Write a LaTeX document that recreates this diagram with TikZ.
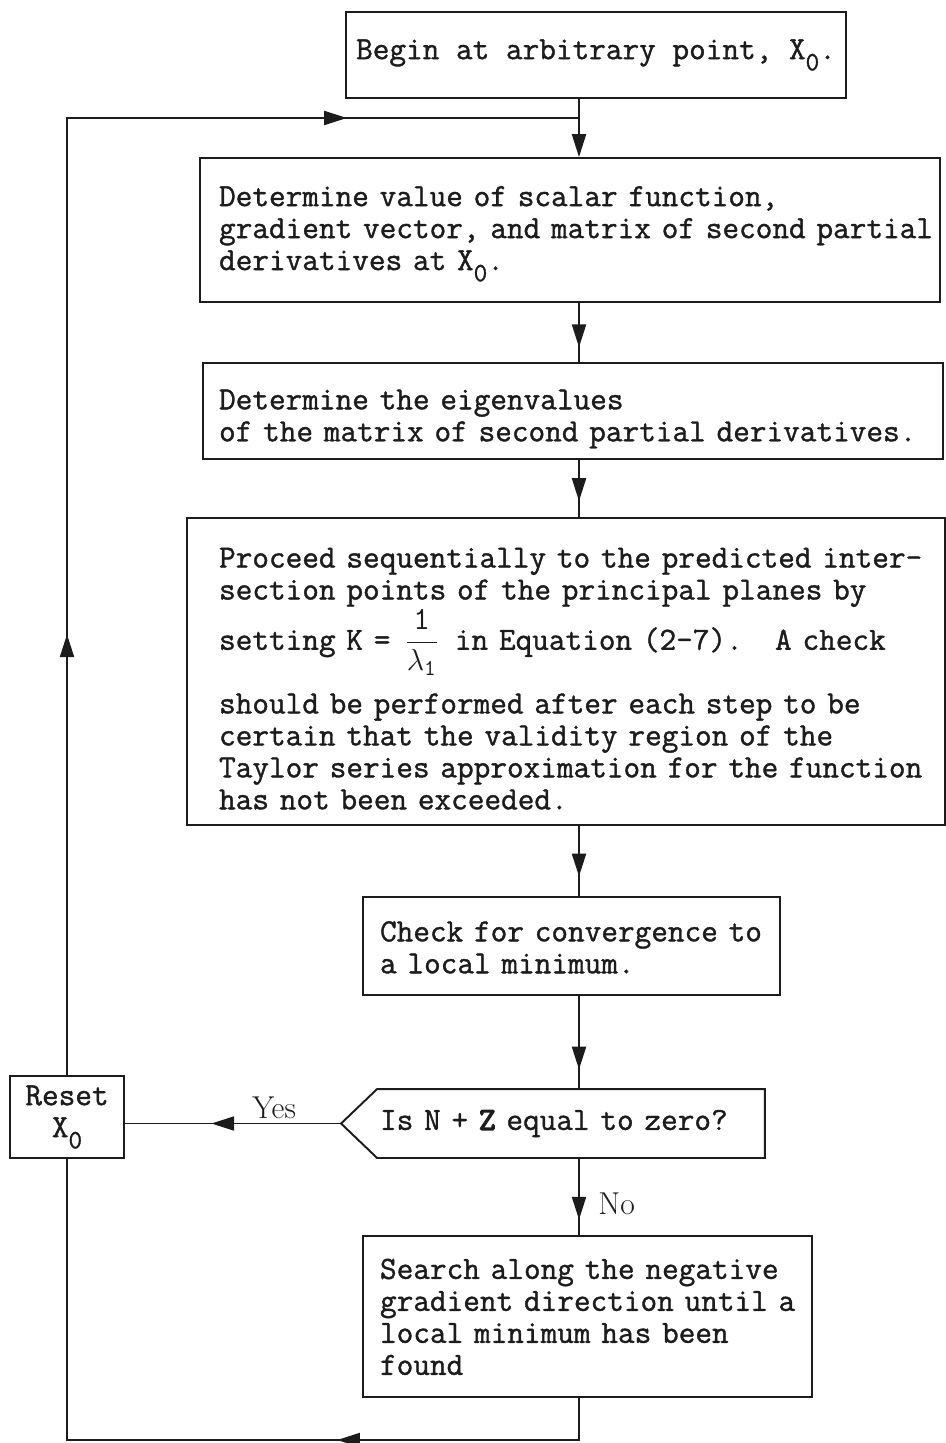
\documentclass[tikz,border=0pt]{standalone}
\usepackage{fontspec}
\usepackage{amsmath}
\usetikzlibrary{arrows.meta, positioning, calc, decorations.markings}
\definecolor{inkblack}{HTML}{1C1C1C}
\newfontfamily\typer{Latin Modern Mono}[RawFeature={embolden=1.2}]
\newfontfamily\typerheavy{Latin Modern Mono}[RawFeature={embolden=4}]
\newcommand{\subzero}{\raisebox{-0.8ex}{\fontsize{15}{15}\selectfont 0}}
\newcommand{\typedlines}[2][0pt]{\begin{tabular}{@{}l@{}}\rule{0pt}{\dimexpr 12.74pt+#1\relax}#2\end{tabular}}

\begin{document}
\begin{tikzpicture}[x=0.02cm, y=-0.02cm, >={Triangle[length=13pt, width=8pt]},
    box/.style={rectangle, draw=inkblack, line width=1.1pt, text=inkblack, align=left, inner ysep=0pt, font=\typer\fontsize{18.4}{18.2}\selectfont},
    decbox/.style={box, draw=none},
    flow/.style={draw=inkblack, line width=1.1pt},
    arrowat/.style={postaction={decorate, decoration={markings, mark=at position #1 with {\arrow{>}}}}},
    answer/.style={font=\rmfamily\fontsize{18}{18}\selectfont, text=inkblack, inner sep=2pt}
]
\useasboundingbox (0,0) rectangle (946,1443);

% Main column
\coordinate (spine) at (579,0);
\node[box, minimum width=10cm, minimum height=1.72cm] (start) at (596,55) {Begin at arbitrary point, X\subzero.};
\node[box, minimum width=14.8cm, minimum height=2.88cm, inner xsep=0.38cm, text width=14.04cm] (eval) at (570,230)
    {\typedlines[3pt]{Determine value of scalar function,\\gradient vector, and matrix of second partial\\derivatives at X\subzero.}};
\node[box, minimum width=14.8cm, minimum height=1.92cm, inner xsep=0.32cm, text width=14.16cm] (eigen) at (573,411)
    {\typedlines[9pt]{Determine the eigenvalues\\of the matrix of second partial derivatives.}};
\node[box, minimum width=15.16cm, minimum height=6.14cm, inner xsep=0.64cm, text width=13.88cm] (proceed) at (566,671.5)
    {\typedlines[12pt]{Proceed sequentially to the predicted inter-\\
     section points of the principal planes by\\
     setting K = \hspace{2pt}$\dfrac{\texttt{1}}{\lambda_{\texttt{1}}}$\hspace{3pt} in Equation (2-7).~~~A check\\[18pt]
     should be performed after each step to be\\
     certain that the validity region of the\\
     Taylor series approximation for the function\\
     has not been exceeded.}};
\node[box, minimum width=8.34cm, minimum height=1.96cm, inner xsep=0.34cm, text width=7.66cm] (conv) at (571.5,946)
    {\typedlines[5.6pt]{Check for convergence to\\a local minimum.}};

% Decision
\node[decbox, minimum width=7.72cm, minimum height=1.34cm, inner xsep=0.04cm, text width=7.64cm] (test) at (571,1123.5)
    {Is N + {\typerheavy Z} equal to zero?};
\coordinate (testtip) at ($(test.west)+(-36,0)$);
\draw[flow] (test.north east) -- (test.north west) -- (testtip) -- (test.south west) -- (test.south east) -- cycle;

\node[box, minimum width=8.98cm, minimum height=3.22cm, inner xsep=0.34cm, text width=8.3cm] (search) at (587.5,1316.5)
    {\typedlines[4.5pt]{Search along the negative\\gradient direction until a\\local minimum has been\\found}};

% Reset box
\node[box, align=center, minimum width=2.28cm, minimum height=1.64cm] (reset) at (67,1117) {Reset\\X\subzero};

% Connectors down the spine
\draw[flow, ->] (start.south -| spine) -- (eval.north -| spine);
\draw[flow, arrowat=0.75] (eval.south -| spine) -- (eigen.north -| spine);
\draw[flow, arrowat=0.72] (eigen.south -| spine) -- (proceed.north -| spine);
\draw[flow, arrowat=0.72] (proceed.south -| spine) -- (conv.north -| spine);
\draw[flow, arrowat=0.79] (conv.south -| spine) -- (test.north -| spine);
\draw[flow, arrowat=0.8] (test.south -| spine) -- node[answer, right, pos=0.6, xshift=0.3cm] (no) {No} (search.north -| spine);

% Yes branch
\draw[flow, arrowat=0.6] (testtip) -- node[answer, above, pos=0.31] (yes) {Yes} (testtip -| reset.east);

% Loop back
\coordinate (join) at (579,118);
\coordinate (base) at (0,1440);
\draw[flow, arrowat=0.34] (search.south -| spine) -- (spine |- base) -- (reset.south |- base) -- (reset.south);
\draw[flow, arrowat=0.30, arrowat=0.842] (reset.north) -- (reset.north |- join) -- (join);

\end{tikzpicture}
\end{document}
